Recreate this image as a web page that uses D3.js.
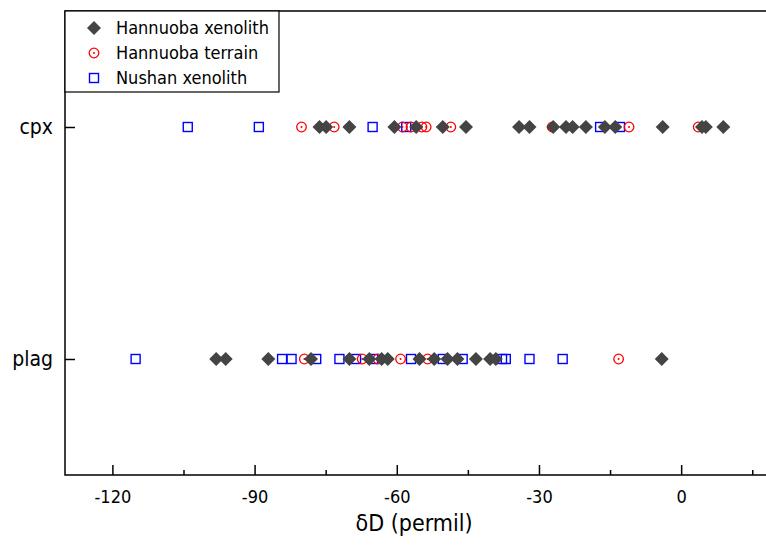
<!DOCTYPE html>
<html><head><meta charset="utf-8">
<script src="https://cdn.jsdelivr.net/npm/d3@7"></script>
<style>body{margin:0;background:#fff}svg{display:block}text{font-family:"DejaVu Sans Condensed","DejaVu Sans",sans-serif;font-stretch:condensed}</style>
</head><body>
<svg id="c" width="766" height="548"></svg>
<script>
const categories = ["plag", "cpx"];
const seriesNames = ["Hannuoba xenolith", "Hannuoba terrain", "Nushan xenolith"];
const xTicks = [-120, -90, -60, -30, 0];
const xMinorTicks = [-105, -75, -45, -15, 15];

const hannuobaXenolithCpx = [-76.3, -74.9, -70.0, -60.5, -55.9, -50.3, -45.4, -34.2, -32.0, -27.0, -24.3, -22.9, -20.1, -16.1, -13.9, -3.9, 4.4, 5.2, 8.9];
const hannuobaXenolithPlag = [-98.1, -96.1, -87.1, -78.1, -70.0, -65.8, -63.2, -61.9, -55.2, -52.1, -49.3, -47.2, -43.3, -40.3, -39.1, -4.1];
const hannuobaTerrainCpx = [-80.1, -73.2, -58.8, -57.0, -54.7, -53.8, -48.6, -27.2, -11.0, 3.6];
const hannuobaTerrainPlag = [-79.5, -67.3, -64.0, -59.2, -53.5, -13.2];
const nushanXenolithCpx = [-104.1, -89.1, -65.1, -58.0, -17.1, -12.9];
const nushanXenolithPlag = [-115.1, -84.2, -82.2, -77.0, -72.1, -68.6, -65.0, -57.0, -50.3, -46.1, -37.8, -37.0, -32.0, -25.0];

const svg = d3.select("#c");
const L = 65, R = 766, T = 11, B = 475;
const x = d3.scaleLinear().domain([-130, 17.9]).range([L, R]);
const y = d3.scalePoint().domain(categories).range([B, T]).padding(0.5);

// frame
svg.append("rect").attr("x", L).attr("y", T).attr("width", 800).attr("height", B - T)
  .attr("fill", "none").attr("stroke", "#000").attr("stroke-width", 1.5);

// x axis ticks inward
const xAxis = d3.axisBottom(x).tickValues(xTicks).tickSize(-10).tickFormat(d => String(d));
const gx = svg.append("g").attr("transform", `translate(0,${B})`).call(xAxis);
gx.select(".domain").remove();
gx.selectAll("line").attr("stroke", "#000").attr("stroke-width", 1.5);
gx.selectAll("text").attr("font-size", 18).attr("fill", "#000").attr("y", 15).attr("dy", "0.71em");
svg.append("g").attr("transform", `translate(0,${B})`)
  .call(d3.axisBottom(x).tickValues(xMinorTicks).tickSize(-5).tickFormat(""))
  .call(g => { g.select(".domain").remove(); g.selectAll("line").attr("stroke", "#000").attr("stroke-width", 1.5); });

// y axis
const gy = svg.append("g").attr("transform", `translate(${L},0)`)
  .call(d3.axisLeft(y).tickSize(-10).tickPadding(12));
gy.select(".domain").remove();
gy.selectAll("line").attr("stroke", "#000").attr("stroke-width", 1.5);
gy.selectAll("text").attr("font-size", 21).attr("fill", "#000");

// axis title
svg.append("text").attr("x", 414).attr("y", 531).attr("text-anchor", "middle")
  .attr("font-size", 23).text("δD (permil)");

// markers
const red = "#ff0000", blue = "#0000ff", dark = "#444444";
function squares(vals, cat) {
  svg.append("g").selectAll("rect").data(vals).join("rect")
    .attr("x", d => x(d) - 4.5).attr("y", y(cat) - 4.5).attr("width", 9).attr("height", 9)
    .attr("fill", "none").attr("stroke", blue).attr("stroke-width", 1.4);
}
function circles(vals, cat) {
  const g = svg.append("g").selectAll("g").data(vals).join("g")
    .attr("transform", d => `translate(${x(d)},${y(cat)})`);
  g.append("circle").attr("r", 4.8).attr("fill", "none").attr("stroke", red).attr("stroke-width", 1.3);
  g.append("circle").attr("r", 1).attr("fill", red);
}
const diamond = d3.symbol().type(d3.symbolSquare).size(98);
function diamonds(vals, cat) {
  svg.append("g").selectAll("path").data(vals).join("path")
    .attr("d", diamond).attr("transform", d => `translate(${x(d)},${y(cat)}) rotate(45)`)
    .attr("fill", dark);
}
squares(nushanXenolithCpx, "cpx"); squares(nushanXenolithPlag, "plag");
circles(hannuobaTerrainCpx, "cpx"); circles(hannuobaTerrainPlag, "plag");
diamonds(hannuobaXenolithCpx, "cpx"); diamonds(hannuobaXenolithPlag, "plag");

// legend
const lg = svg.append("g");
lg.append("rect").attr("x", L).attr("y", T).attr("width", 214).attr("height", 81)
  .attr("fill", "#fff").attr("stroke", "#000").attr("stroke-width", 1.2);
const rows = [28, 53, 78];
seriesNames.forEach((name, i) => {
  const cy = rows[i], cx = 94;
  if (i === 0) lg.append("path").attr("d", diamond).attr("transform", `translate(${cx},${cy}) rotate(45)`).attr("fill", dark);
  if (i === 1) { lg.append("circle").attr("cx", cx).attr("cy", cy).attr("r", 4.8).attr("fill", "none").attr("stroke", red).attr("stroke-width", 1.3);
                 lg.append("circle").attr("cx", cx).attr("cy", cy).attr("r", 1).attr("fill", red); }
  if (i === 2) lg.append("rect").attr("x", cx - 4.5).attr("y", cy - 4.5).attr("width", 9).attr("height", 9).attr("fill", "none").attr("stroke", blue).attr("stroke-width", 1.4);
  lg.append("text").attr("x", 116).attr("y", cy).attr("dy", "0.36em").attr("font-size", 18).text(name);
});
</script>
</body></html>
